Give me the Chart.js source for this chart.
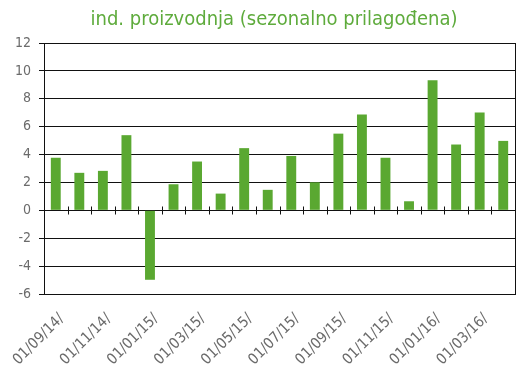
<!DOCTYPE html>
<html><head><meta charset="utf-8">
<script src="https://cdn.jsdelivr.net/npm/chart.js@4/dist/chart.umd.min.js"></script>
<style>html,body{margin:0;padding:0;background:#fff}#w{width:532px;height:374px}</style>
</head><body><div id="w"><canvas id="c"></canvas></div>
<script>
const titleText = 'ind. proizvodnja (sezonalno prilagođena)';
const categories = ['01/09/14/','01/10/14/','01/11/14/','01/12/14/','01/01/15/','01/02/15/','01/03/15/','01/04/15/','01/05/15/','01/06/15/','01/07/15/','01/08/15/','01/09/15/','01/10/15/','01/11/15/','01/12/15/','01/01/16/','01/02/16/','01/03/16/','01/04/16/'];
const values = [3.77,2.69,2.83,5.39,-4.98,1.87,3.5,1.2,4.46,1.47,3.9,2.01,5.5,6.87,3.77,0.65,9.32,4.72,7.02,4.98];
const yTicks = [-6,-4,-2,0,2,4,6,8,10,12];

const frame = {
  id:'frame',
  beforeDraw(chart){
    const ctx = chart.ctx;
    ctx.save();
    ctx.fillStyle='#5eab3c';
    ctx.font='20px "DejaVu Sans Condensed", "DejaVu Sans", sans-serif';
    ctx.textAlign='center'; ctx.textBaseline='middle';
    ctx.fillText(titleText, 274, 20);
    ctx.restore();
  },
  afterDatasetsDraw(chart){
    const {ctx, chartArea:a, scales:{x,y}} = chart;
    ctx.save();
    ctx.strokeStyle='#111'; ctx.lineWidth=1;
    ctx.strokeRect(Math.round(a.left)+0.5, Math.round(a.top)+0.5, Math.round(a.right-a.left), Math.round(a.bottom-a.top));
    const y0 = Math.round(y.getPixelForValue(0))+0.5;
    ctx.beginPath();
    for(let i=1;i<categories.length;i++){
      const px = Math.round((x.getPixelForValue(i-1)+x.getPixelForValue(i))/2)+0.5;
      ctx.moveTo(px,y0-4); ctx.lineTo(px,y0+4);
    }
    ctx.stroke();
    ctx.restore();
  }
};

new Chart(document.getElementById('c'),{
  type:'bar',
  data:{labels:categories,datasets:[{data:values,backgroundColor:'#5aa831',barPercentage:0.42,categoryPercentage:1}]},
  options:{
    responsive:true,maintainAspectRatio:false,animation:false,
    layout:{padding:{left:0,right:17,top:43,bottom:0}},
    plugins:{legend:{display:false},tooltip:{enabled:false},title:{display:false}},
    scales:{
      x:{grid:{display:false},border:{display:true,color:'#111'},
        afterFit(s){s.height=80;},
        ticks:{color:'#6b6b6b',autoSkip:false,maxRotation:45,minRotation:45,padding:8,labelOffset:6,
          font:{family:'DejaVu Sans Condensed',size:15},
          callback(v,i){return i%2===0?categories[i]:'';}}},
      y:{min:-6,max:12,afterFit(s){s.width=44;},
        afterBuildTicks(s){s.ticks=yTicks.map(v=>({value:v}));},
        grid:{color:'#111',tickLength:5},border:{color:'#111'},
        ticks:{color:'#6b6b6b',padding:8,font:{family:'DejaVu Sans Condensed',size:14}}}
    }
  },
  plugins:[frame]
});
</script></body></html>
